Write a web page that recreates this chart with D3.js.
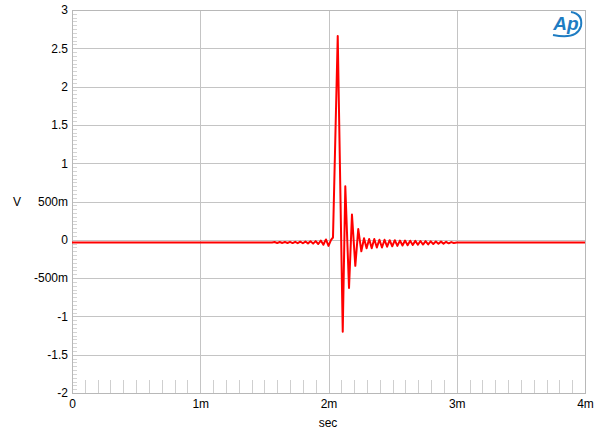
<!DOCTYPE html>
<html><head><meta charset="utf-8">
<script src="https://cdn.jsdelivr.net/npm/d3@7"></script>
<style>body{margin:0;background:#fff}svg{display:block}text{font-family:"Liberation Sans",Arial,sans-serif}</style>
</head><body>
<script>
// Data (time in ms, value in V)
const times = [0, 1.56, 1.58, 1.60, 1.62, 1.64, 1.66, 1.68, 1.70, 1.72, 1.74, 1.76, 1.78, 1.80, 1.82, 1.84, 1.86, 1.88, 1.90, 1.92, 1.94, 1.96, 1.98, 2.00, 2.02, 2.035,
  2.072, 2.111, 2.131, 2.160, 2.183, 2.209, 2.232, 2.256,
  2.277, 2.297, 2.317, 2.337, 2.357, 2.377, 2.397, 2.417, 2.437, 2.457, 2.477, 2.497, 2.517, 2.537, 2.557, 2.577, 2.597, 2.617, 2.637, 2.657, 2.677, 2.697, 2.717, 2.737, 2.757, 2.777, 2.797, 2.817, 2.837, 2.857, 2.877, 2.897, 2.917, 2.937, 2.957, 2.977, 3.00, 4.00];
const values = [-0.035, -0.035, -0.029, -0.041, -0.029, -0.041, -0.028, -0.042, -0.027, -0.043, -0.026, -0.044, -0.025, -0.045, -0.023, -0.047, -0.020, -0.050, -0.017, -0.055, -0.010, -0.065, 0.005, -0.080, 0.000, 0.03,
  2.66, -1.20, 0.70, -0.63, 0.33, -0.34, 0.14, -0.15,
  0.02, -0.11, 0.01, -0.11, 0.01, -0.10, 0.00, -0.10, 0.00, -0.09, -0.005, -0.085, -0.005, -0.08, -0.01, -0.075, -0.01, -0.07, -0.012, -0.068, -0.014, -0.065, -0.016, -0.062, -0.018, -0.06, -0.02, -0.055, -0.022, -0.052, -0.024, -0.05, -0.026, -0.046, -0.03, -0.042, -0.035, -0.035];
const yTicks = [3, 2.5, 2, 1.5, 1, 0.5, 0, -0.5, -1, -1.5, -2];
const yTickLabels = ["3", "2.5", "2", "1.5", "1", "500m", "0", "-500m", "-1", "-1.5", "-2"];
const xTicks = [0, 1, 2, 3, 4];
const xTickLabels = ["0", "1m", "2m", "3m", "4m"];
const yMinor = d3.range(-2, 3.0001, 0.05);
const xMinor = d3.range(0, 4.0001, 0.1);

const W = 600, H = 438;
const m = {left: 72, right: 15, top: 10, bottom: 45};
const svg = d3.select("body").append("svg").attr("width", W).attr("height", H);
const x = d3.scaleLinear().domain([0, 4]).range([m.left, W - m.right]);
const y = d3.scaleLinear().domain([-2, 3]).range([H - m.bottom, m.top]);

const grid = "#c4c4c4";
// minor ticks left
svg.append("g").selectAll("line").data(yMinor).join("line")
  .attr("x1", m.left).attr("x2", m.left + 5)
  .attr("y1", d => Math.round(y(d)) + 0.5).attr("y2", d => Math.round(y(d)) + 0.5)
  .attr("stroke", "#d4d4d4").attr("stroke-width", 1);
// minor ticks bottom
svg.append("g").selectAll("line").data(xMinor).join("line")
  .attr("x1", d => Math.round(x(d)) + 0.5).attr("x2", d => Math.round(x(d)) + 0.5)
  .attr("y1", y(-2)).attr("y2", y(-2) - 13)
  .attr("stroke", "#cfcfcf").attr("stroke-width", 1);
// grid
svg.append("g").selectAll("line").data(yTicks).join("line")
  .attr("x1", m.left).attr("x2", W - m.right)
  .attr("y1", d => Math.round(y(d)) + 0.5).attr("y2", d => Math.round(y(d)) + 0.5)
  .attr("stroke", grid);
svg.append("g").selectAll("line").data(xTicks).join("line")
  .attr("x1", d => Math.round(x(d)) + 0.5).attr("x2", d => Math.round(x(d)) + 0.5)
  .attr("y1", m.top).attr("y2", H - m.bottom)
  .attr("stroke", grid);
svg.append("rect").attr("x", m.left + 0.5).attr("y", Math.round(m.top) + 0.5)
  .attr("width", Math.round(W - m.right - m.left)).attr("height", Math.round(H - m.bottom - m.top))
  .attr("fill", "none").attr("stroke", "#b8b8b8");

// axes labels
const yAxis = d3.axisLeft(y).tickValues(yTicks).tickFormat((d, i) => yTickLabels[i]).tickSize(0).tickPadding(4);
const ga = svg.append("g").attr("transform", `translate(${m.left},0)`).call(yAxis);
ga.select(".domain").remove();
ga.selectAll("text").attr("font-size", 12).attr("fill", "#000").attr("font-family", "Liberation Sans, Arial, sans-serif");
const xAxis = d3.axisBottom(x).tickValues(xTicks).tickFormat((d, i) => xTickLabels[i]).tickSize(0).tickPadding(6);
const gx = svg.append("g").attr("transform", `translate(0,${H - m.bottom})`).call(xAxis);
gx.select(".domain").remove();
gx.selectAll("text").attr("font-size", 12).attr("fill", "#000").attr("font-family", "Liberation Sans, Arial, sans-serif");

svg.append("text").attr("x", 17).attr("y", 206).attr("text-anchor", "middle").attr("font-size", 12).text("V");
svg.append("text").attr("x", 328).attr("y", 427).attr("text-anchor", "middle").attr("font-size", 12).text("sec");

// data line
const pts = times.map((t, i) => [t, values[i]]);
svg.append("path").datum(pts)
  .attr("d", d3.line().x(d => x(d[0])).y(d => y(d[1])))
  .attr("fill", "none").attr("stroke", "#ff0000").attr("stroke-width", 2).attr("stroke-linejoin", "round");

// AP logo
const logo = svg.append("g").attr("transform", "translate(567,24)");
logo.append("text").attr("x", -1).attr("y", 6).attr("text-anchor", "middle")
  .attr("font-size", 19).attr("font-style", "italic").attr("font-weight", "bold")
  .attr("fill", "#1e7cc2").attr("font-family", "Liberation Sans, Arial, sans-serif").text("Ap");
logo.append("path").attr("d", "M -14 11 Q 10 16 14 2 Q 16 -10 4 -12")
  .attr("fill", "none").attr("stroke", "#1e7cc2").attr("stroke-width", 2);
</script>
</body></html>
